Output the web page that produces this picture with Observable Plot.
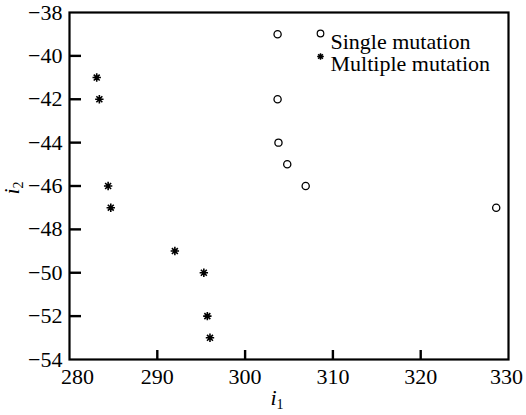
<!DOCTYPE html>
<html><head><meta charset="utf-8">
<script src="https://cdn.jsdelivr.net/npm/d3@7"></script>
<script src="https://cdn.jsdelivr.net/npm/@observablehq/plot@0.6"></script>
<style>body{margin:0;background:#fff} svg{display:block}</style>
</head><body><div id="chart"></div>
<script>
const singleI1 = [303.7, 303.7, 303.8, 304.8, 306.9, 328.6];
const singleI2 = [-39, -42, -44, -45, -46, -47];
const multiI1 = [283.1, 283.4, 284.4, 284.7, 292.0, 295.3, 295.7, 296.0];
const multiI2 = [-41, -42, -46, -47, -49, -50, -52, -53];
const xTicksInner = [290, 300, 310, 320];
const yTicks = [-54, -52, -50, -48, -46, -44, -42, -40, -38];
const yTicksInner = [-52, -50, -48, -46, -44, -42, -40];
const legendLabels = ["Single mutation", "Multiple mutation"];

const single = singleI1.map((x, i) => ({x, y: singleI2[i]}));
const multi = multiI1.map((x, i) => ({x, y: multiI2[i]}));

const W = 526, H = 415, ML = 69, MR = 18, MT = 12, MB = 56;

const star8 = {
  draw(ctx, size) {
    const r = Math.sqrt(size / Math.PI);
    for (let k = 0; k < 4; k++) {
      const a = k * Math.PI / 4;
      ctx.moveTo(r * Math.cos(a), r * Math.sin(a));
      ctx.lineTo(-r * Math.cos(a), -r * Math.sin(a));
    }
  }
};
const fmt = d3.format("");
const blank = () => "";
const FF = "Liberation Serif";
const font = {fontSize: 22, fontFamily: FF};

const chart = Plot.plot({
  width: W, height: H,
  marginLeft: ML, marginRight: MR, marginTop: MT, marginBottom: MB,
  x: {domain: [280, 330]},
  y: {domain: [-54, -38]},
  marks: [
    Plot.axisY({ticks: yTicks, anchor: "left", tickSize: 0, tickPadding: 7, tickFormat: fmt, label: null, ...font}),
    Plot.axisX({ticks: xTicksInner, anchor: "bottom", tickSize: 0, tickPadding: 9, tickFormat: fmt, label: null, ...font}),
    Plot.axisX({ticks: [280], anchor: "bottom", tickSize: 0, tickPadding: 9, dx: 8, tickFormat: fmt, label: null, ...font}),
    Plot.axisX({ticks: [330], anchor: "bottom", tickSize: 0, tickPadding: 9, dx: -2, tickFormat: fmt, label: null, ...font}),
    Plot.frame({stroke: "#000", strokeWidth: 2.2, fill: "none"}),
    Plot.dot(single, {x: "x", y: "y", r: 3.6, stroke: "#000", strokeWidth: 1.3, fill: "none"}),
    Plot.dot(multi, {x: "x", y: "y", r: 4.2, symbol: star8, stroke: "#000", strokeWidth: 1.6}),
    Plot.dot([legendLabels[0]], {frameAnchor: "top-left", dx: 251, dy: 21, r: 3.3, stroke: "#000", strokeWidth: 1.2, fill: "none"}),
    Plot.dot([legendLabels[1]], {frameAnchor: "top-left", dx: 251, dy: 44, r: 3.3, symbol: star8, stroke: "#000", strokeWidth: 1.5}),
    Plot.text([legendLabels[0]], {text: d => d, frameAnchor: "top-left", dx: 261, dy: 21, textAnchor: "start", fontSize: 22, fontFamily: FF, fill: "#000"}),
    Plot.text([legendLabels[1]], {text: d => d, frameAnchor: "top-left", dx: 261, dy: 43, textAnchor: "start", fontSize: 22, fontFamily: FF, fill: "#000"}),
    // inward tick marks, drawn last so nothing covers them
    Plot.axisY({ticks: yTicksInner, anchor: "right", frameAnchor: "left", tickSize: 11, tickFormat: blank, stroke: "#000", strokeWidth: 2.4, label: null}),
    Plot.axisX({ticks: xTicksInner, anchor: "top", frameAnchor: "bottom", tickSize: 10, tickFormat: blank, stroke: "#000", strokeWidth: 2.4, label: null})
  ]
});
document.getElementById("chart").append(chart);

const svg = d3.select(chart);
const yl = svg.append("text")
  .attr("transform", "translate(19,188) rotate(-90)")
  .attr("text-anchor", "middle")
  .attr("font-family", FF).attr("font-size", 22);
yl.append("tspan").attr("font-style", "italic").text("i");
yl.append("tspan").attr("font-size", 14).attr("dy", 4).text("2");
const xl = svg.append("text")
  .attr("transform", "translate(277,405)")
  .attr("text-anchor", "middle")
  .attr("font-family", FF).attr("font-size", 22);
xl.append("tspan").attr("font-style", "italic").text("i");
xl.append("tspan").attr("font-size", 14).attr("dy", 4).text("1");
</script></body></html>
